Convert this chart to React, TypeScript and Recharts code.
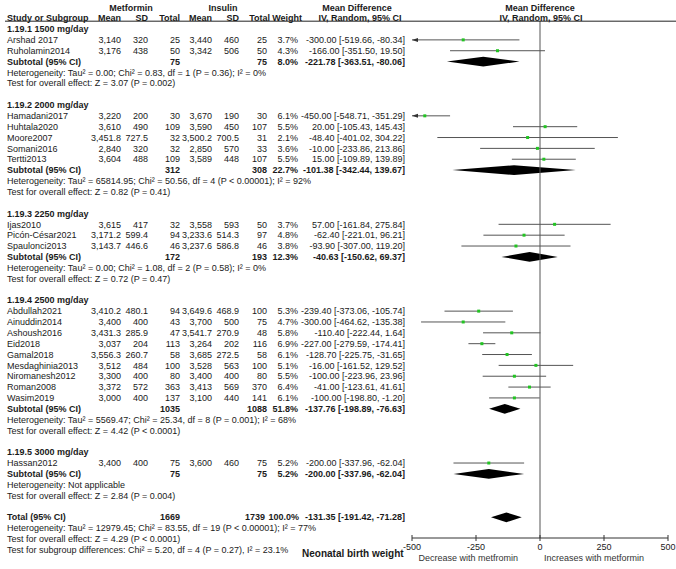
import { ComposedChart, XAxis, YAxis, Scatter, ReferenceLine, ReferenceArea, Label } from 'recharts'

const groupTitles = ['1.19.1 1500 mg/day', '1.19.2 2000 mg/day', '1.19.3 2250 mg/day', '1.19.4 2500 mg/day', '1.19.5 3000 mg/day']
const groupSizes = [2, 5, 3, 9, 1]

const studyNames = ['Arshad 2017', 'Ruholamin2014', 'Hamadani2017', 'Huhtala2020', 'Moore2007', 'Somani2016', 'Tertti2013',
  'Ijas2010', 'Picón-César2021', 'Spaulonci2013', 'Abdullah2021', 'Ainuddin2014', 'Ashoush2016', 'Eid2018', 'Gamal2018',
  'Mesdaghinia2013', 'Niromanesh2012', 'Roman2008', 'Wasim2019', 'Hassan2012']
const metMean = [3140, 3176, 3220, 3610, 3451.8, 2840, 3604, 3615, 3171.2, 3143.7, 3410.2, 3400, 3431.3, 3037, 3556.3, 3512, 3300, 3372, 3000, 3400]
const metSD = [320, 438, 200, 490, 727.5, 320, 488, 417, 599.4, 446.6, 480.1, 400, 285.9, 204, 260.7, 484, 400, 572, 400, 400]
const metN = [25, 50, 30, 109, 32, 32, 109, 32, 94, 46, 94, 43, 47, 113, 58, 100, 80, 363, 137, 75]
const insMean = [3440, 3342, 3670, 3590, 3500.2, 2850, 3589, 3558, 3233.6, 3237.6, 3649.6, 3700, 3541.7, 3264, 3685, 3528, 3400, 3413, 3100, 3600]
const insSD = [460, 506, 190, 450, 700.5, 570, 448, 593, 514.3, 586.8, 468.9, 500, 270.9, 202, 272.5, 563, 400, 569, 440, 460]
const insN = [25, 50, 30, 107, 31, 33, 107, 50, 97, 46, 100, 75, 48, 116, 58, 100, 80, 370, 141, 75]
const weights = [3.7, 4.3, 6.1, 5.5, 2.1, 3.6, 5.5, 3.7, 4.8, 3.8, 5.3, 4.7, 5.8, 6.9, 6.1, 5.1, 5.5, 6.4, 6.1, 5.2]
const md = [-300, -166, -450, 20, -48.4, -10, 15, 57, -62.4, -93.9, -239.4, -300, -110.4, -227, -128.7, -16, -100, -41, -100, -200]
const ciLow = [-519.66, -351.5, -548.71, -105.43, -401.02, -233.86, -109.89, -161.84, -221.01, -307, -373.06, -464.62, -222.44, -279.59, -225.75, -161.52, -223.96, -123.61, -198.8, -337.96]
const ciHigh = [-80.34, 19.5, -351.29, 145.43, 304.22, 213.86, 139.89, 275.84, 96.21, 119.2, -105.74, -135.38, 1.64, -174.41, -31.65, 129.52, 23.96, 41.61, -1.2, -62.04]

const subMetN = [75, 312, 172, 1035, 75]
const subInsN = [75, 308, 193, 1088, 75]
const subWeight = [8.0, 22.7, 12.3, 51.8, 5.2]
const subMd = [-221.78, -101.38, -40.63, -137.76, -200]
const subLow = [-363.51, -342.44, -150.62, -198.89, -337.96]
const subHigh = [-80.06, 139.67, 69.37, -76.63, -62.04]
const subHet = [
  'Heterogeneity: Tau² = 0.00; Chi² = 0.83, df = 1 (P = 0.36); I² = 0%',
  'Heterogeneity: Tau² = 65814.95; Chi² = 50.56, df = 4 (P < 0.00001); I² = 92%',
  'Heterogeneity: Tau² = 0.00; Chi² = 1.08, df = 2 (P = 0.58); I² = 0%',
  'Heterogeneity: Tau² = 5569.47; Chi² = 25.34, df = 8 (P = 0.001); I² = 68%',
  'Heterogeneity: Not applicable',
]
const subTest = [
  'Test for overall effect: Z = 3.07 (P = 0.002)',
  'Test for overall effect: Z = 0.82 (P = 0.41)',
  'Test for overall effect: Z = 0.72 (P = 0.47)',
  'Test for overall effect: Z = 4.42 (P < 0.0001)',
  'Test for overall effect: Z = 2.84 (P = 0.004)',
]

const totalN = [1669, 1739]
const totalWeight = 100.0
const totalMd = [-131.35, -191.42, -71.28]
const totalNotes = [
  'Heterogeneity: Tau² = 12979.45; Chi² = 83.55, df = 19 (P < 0.00001); I² = 77%',
  'Test for overall effect: Z = 4.29 (P < 0.0001)',
  'Test for subgroup differences: Chi² = 5.20, df = 4 (P = 0.27), I² = 23.1%',
]

const xTicks = [-500, -250, 0, 250, 500]

type Row = { kind: 'group' | 'study' | 'subtotal' | 'note' | 'blank' | 'total'; i?: number; text?: string }

const rows: Row[] = []
let s = 0
groupTitles.forEach((title, g) => {
  rows.push({ kind: 'group', text: title })
  for (let k = 0; k < groupSizes[g]; k++) rows.push({ kind: 'study', i: s++ })
  rows.push({ kind: 'subtotal', i: g })
  rows.push({ kind: 'note', text: subHet[g] })
  rows.push({ kind: 'note', text: subTest[g] })
  rows.push({ kind: 'blank' })
})
rows.push({ kind: 'total' })
totalNotes.forEach((t) => rows.push({ kind: 'note', text: t }))

const rowOf = (kind: string, i: number) => rows.findIndex((r) => r.kind === kind && r.i === i)
const studyPoints = studyNames.map((_, i) => ({ x: md[i], y: rowOf('study', i) }))
const clipped = studyNames.map((_, i) => i).filter((i) => ciLow[i] < -500).map((i) => ({ x: -500, y: rowOf('study', i) }))
const diamonds = [
  ...subMd.map((m, g) => ({ m, lo: subLow[g], hi: subHigh[g], y: rowOf('subtotal', g) })),
  { m: totalMd[0], lo: totalMd[1], hi: totalMd[2], y: rows.findIndex((r) => r.kind === 'total') },
]
const rowTicks = [-2, -1, ...rows.map((_, i) => i)]

const num = (v: number) => v.toLocaleString('en-US', { maximumFractionDigits: 1 })
const ci = (m: number, lo: number, hi: number) => `${m.toFixed(2)} [${lo.toFixed(2)}, ${hi.toFixed(2)}]`

const COL = { name: 7, mMean: 121, mSD: 148, mN: 180, iMean: 212, iSD: 239, iN: 267, w: 298, ci: 405 }
const FS = 9
const INK = '#1a1a1a'

function T({ x, y, anchor = 'end', bold = false, children }: any) {
  return (
    <text x={x} y={y} textAnchor={anchor} fontSize={FS} fontWeight={bold ? 'bold' : 'normal'} fill={INK}>
      {children}
    </text>
  )
}

function RowTick(props: any) {
  const { payload } = props
  const r = payload.value
  const y = props.y + 3.2
  if (r === -2) {
    return (
      <g>
        <T x={131} y={y} anchor="middle" bold>Metformin</T>
        <T x={223} y={y} anchor="middle" bold>Insulin</T>
        <T x={357} y={y} anchor="middle" bold>Mean Difference</T>
        <T x={540} y={y} anchor="middle" bold>Mean Difference</T>
      </g>
    )
  }
  if (r === -1) {
    return (
      <g>
        <T x={COL.name} y={y} anchor="start" bold>Study or Subgroup</T>
        <T x={COL.mMean} y={y} bold>Mean</T>
        <T x={COL.mSD} y={y} bold>SD</T>
        <T x={COL.mN} y={y} bold>Total</T>
        <T x={COL.iMean} y={y} bold>Mean</T>
        <T x={COL.iSD} y={y} bold>SD</T>
        <T x={COL.iN + 3} y={y} bold>Total</T>
        <T x={COL.w + 4} y={y} bold>Weight</T>
        <T x={360} y={y} anchor="middle" bold>IV, Random, 95% CI</T>
        <T x={541} y={y} anchor="middle" bold>IV, Random, 95% CI</T>
        <line x1={5} x2={676} y1={props.y + 3} y2={props.y + 3} stroke="#222" strokeWidth={1} />
      </g>
    )
  }
  const row = rows[r]
  if (!row || row.kind === 'blank') return <g />
  if (row.kind === 'group') return <T x={COL.name} y={y} anchor="start" bold>{row.text}</T>
  if (row.kind === 'note') return <T x={COL.name} y={y} anchor="start">{row.text}</T>
  if (row.kind === 'study') {
    const i = row.i as number
    return (
      <g>
        <T x={COL.name} y={y} anchor="start">{studyNames[i]}</T>
        <T x={COL.mMean} y={y}>{num(metMean[i])}</T>
        <T x={COL.mSD} y={y}>{num(metSD[i])}</T>
        <T x={COL.mN} y={y}>{metN[i]}</T>
        <T x={COL.iMean} y={y}>{num(insMean[i])}</T>
        <T x={COL.iSD} y={y}>{num(insSD[i])}</T>
        <T x={COL.iN} y={y}>{insN[i]}</T>
        <T x={COL.w} y={y}>{weights[i].toFixed(1)}%</T>
        <T x={COL.ci} y={y}>{ci(md[i], ciLow[i], ciHigh[i])}</T>
      </g>
    )
  }
  if (row.kind === 'subtotal') {
    const g = row.i as number
    return (
      <g>
        <T x={COL.name} y={y} anchor="start" bold>Subtotal (95% CI)</T>
        <T x={COL.mN} y={y} bold>{subMetN[g]}</T>
        <T x={COL.iN} y={y} bold>{subInsN[g]}</T>
        <T x={COL.w} y={y} bold>{subWeight[g].toFixed(1)}%</T>
        <T x={COL.ci} y={y} bold>{ci(subMd[g], subLow[g], subHigh[g])}</T>
      </g>
    )
  }
  return (
    <g>
      <T x={COL.name} y={y} anchor="start" bold>Total (95% CI)</T>
      <T x={COL.mN} y={y} bold>{totalN[0]}</T>
      <T x={COL.iN - 2} y={y} bold>{totalN[1]}</T>
      <T x={COL.w + 1} y={y} bold>{totalWeight.toFixed(1)}%</T>
      <T x={COL.ci} y={y} bold>{ci(totalMd[0], totalMd[1], totalMd[2])}</T>
    </g>
  )
}

function AxisTick(props: any) {
  const { x, y, payload } = props
  return (
    <g>
      <line x1={x} x2={x} y1={y - 3} y2={y + 3} stroke="#333" />
      <text x={x} y={y + 12} textAnchor="middle" fontSize={FS} fill={INK}>{payload.value}</text>
    </g>
  )
}

function AxisCaption(props: any) {
  const vb = props.viewBox
  const mid = vb.x + vb.width / 2
  return (
    <g>
      <text x={mid - 22} y={vb.y + 23} textAnchor="end" fontSize={FS} fill="#333">Decrease with metfromin</text>
      <text x={mid + 4} y={vb.y + 23} textAnchor="start" fontSize={FS} fill="#333">Increases with metformin</text>
      <text x={302} y={vb.y + 18.5} textAnchor="start" fontSize={10} fontWeight="bold" fill={INK}>Neonatal birth weight</text>
    </g>
  )
}

const diamondShape = (frac: number) => (p: any) => {
  const { x, y, width, height } = p
  const cx = x + width * frac
  const cy = y + height / 2
  return <polygon points={`${x},${cy} ${cx},${y} ${x + width},${cy} ${cx},${y + height}`} fill="#000" />
}

export default function App() {
  return (
    <div style={{ position: 'absolute', left: 0, top: 0, background: '#fff', fontFamily: '"Liberation Sans", Arial, sans-serif' }}>
      <ComposedChart width={676} height={569} margin={{ top: 21, right: 8, left: 0, bottom: 0 }}>
        <XAxis
          type="number"
          dataKey="x"
          domain={[-500, 500]}
          ticks={xTicks}
          allowDataOverflow
          interval={0}
          height={31}
          tickSize={0}
          tickMargin={0}
          tick={<AxisTick />}
          axisLine={{ stroke: '#333' }}
          tickLine={false}
        >
          <Label content={AxisCaption} />
        </XAxis>
        <YAxis
          type="number"
          dataKey="y"
          domain={[-0.74, 46.91]}
          reversed
          allowDataOverflow
          ticks={rowTicks}
          interval={0}
          width={412}
          axisLine={false}
          tickLine={false}
          tick={<RowTick />}
        />
        <ReferenceLine x={0} stroke="#555" strokeWidth={1} />
        {studyPoints.map((p, i) => (
          <ReferenceLine
            key={`ci${i}`}
            segment={[{ x: Math.max(ciLow[i], -500), y: p.y }, { x: Math.min(ciHigh[i], 500), y: p.y }]}
            stroke="#555"
            strokeWidth={1}
          />
        ))}
        {diamonds.map((d, i) => (
          <ReferenceArea
            key={`d${i}`}
            x1={d.lo}
            x2={d.hi}
            y1={d.y - 0.45}
            y2={d.y + 0.45}
            shape={diamondShape((d.m - d.lo) / (d.hi - d.lo))}
          />
        ))}
        <Scatter
          data={clipped}
          isAnimationActive={false}
          shape={(p: any) => <polygon points={`${p.cx},${p.cy} ${p.cx + 6},${p.cy - 2} ${p.cx + 6},${p.cy + 2}`} fill="#333" />}
        />
        <Scatter
          data={studyPoints}
          isAnimationActive={false}
          shape={(p: any) => <rect x={p.cx - 1.5} y={p.cy - 1.5} width={3} height={3} fill="#22c422" />}
        />
      </ComposedChart>
    </div>
  )
}
